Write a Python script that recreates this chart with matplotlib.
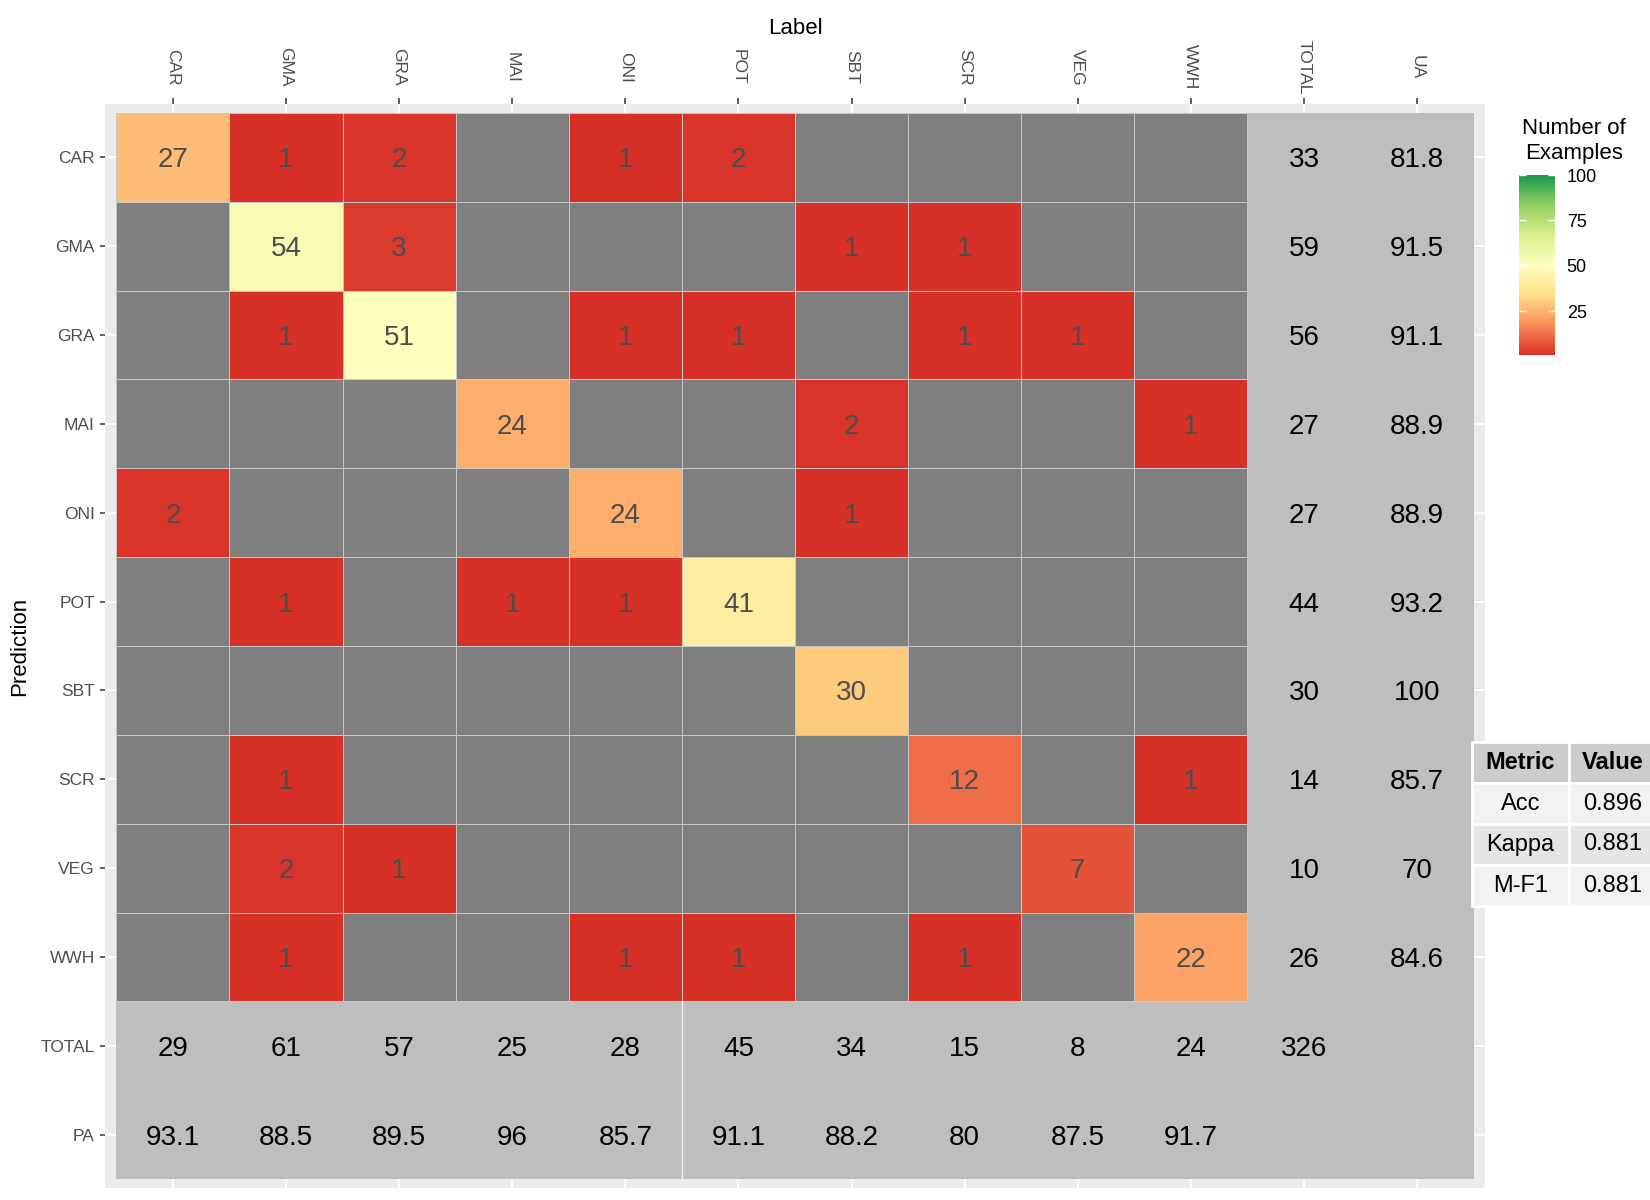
import numpy as np
import matplotlib
matplotlib.use('Agg')
import matplotlib.pyplot as plt
from matplotlib.colors import LinearSegmentedColormap, ListedColormap, Normalize
from matplotlib.cm import ScalarMappable

plt.rcParams['font.family'] = ['Liberation Sans', 'DejaVu Sans']

# ---------------- data ----------------
classes = ['CAR', 'GMA', 'GRA', 'MAI', 'ONI', 'POT', 'SBT', 'SCR', 'VEG', 'WWH']
x_labels = classes + ['TOTAL', 'UA']
y_labels = classes + ['TOTAL', 'PA']

# rows = Prediction, columns = Label (0 = no examples)
counts = [
    [27, 1, 2, 0, 1, 2, 0, 0, 0, 0],
    [0, 54, 3, 0, 0, 0, 1, 1, 0, 0],
    [0, 1, 51, 0, 1, 1, 0, 1, 1, 0],
    [0, 0, 0, 24, 0, 0, 2, 0, 0, 1],
    [2, 0, 0, 0, 24, 0, 1, 0, 0, 0],
    [0, 1, 0, 1, 1, 41, 0, 0, 0, 0],
    [0, 0, 0, 0, 0, 0, 30, 0, 0, 0],
    [0, 1, 0, 0, 0, 0, 0, 12, 0, 1],
    [0, 2, 1, 0, 0, 0, 0, 0, 7, 0],
    [0, 1, 0, 0, 1, 1, 0, 1, 0, 22],
]
row_totals = [33, 59, 56, 27, 27, 44, 30, 14, 10, 26]
col_totals = [29, 61, 57, 25, 28, 45, 34, 15, 8, 24]
grand_total = 326
ua = [81.8, 91.5, 91.1, 88.9, 88.9, 93.2, 100, 85.7, 70, 84.6]
pa = [93.1, 88.5, 89.5, 96, 85.7, 91.1, 88.2, 80, 87.5, 91.7]

metric_names = ['Acc', 'Kappa', 'M-F1']
metric_values = ['0.896', '0.881', '0.881']

legend_ticks = [25, 50, 75, 100]
legend_limits = (1, 100)
palette = ['#D73027', '#FC8D59', '#FEE08B', '#FFFFBF', '#D9EF8B', '#91CF60', '#1A9850']

# ---------------- figure ----------------
W, H = 1650, 1200
fig = plt.figure(figsize=(W / 100, H / 100), dpi=100)
fig.patch.set_facecolor('white')

ax = fig.add_axes([105 / W, 12 / H, 1380 / W, 1084 / H])
ax.set_facecolor('#EBEBEB')
for s in ax.spines.values():
    s.set_visible(False)

n = len(x_labels)
k = len(classes)
ax.set_xlim(-0.6, n - 0.4)
ax.set_ylim(n - 0.4, -0.6)
ax.set_xticks(range(n))
ax.set_xticklabels(x_labels)
ax.set_yticks(range(n))
ax.set_yticklabels(y_labels)
ax.grid(True, color='white', lw=1.5)
ax.set_axisbelow(True)

ax.tick_params(axis='x', bottom=False, labelbottom=False, top=True, labeltop=True,
               length=4.3, width=1.1, color='#333333', pad=22.3,
               labelsize=12.5, labelcolor='#4D4D4D', labelrotation=-90)
ax.tick_params(axis='y', left=True, length=3.6, width=1.1, color='#333333', pad=3.6,
               labelsize=12.5, labelcolor='#4D4D4D')
for t in ax.xaxis.get_major_ticks():
    t.label2.set_verticalalignment('center')
    t.label2.set_horizontalalignment('center')

# margin (totals / accuracies) region
edges_all = np.arange(n + 1) - 0.5
marg = np.ma.masked_all((n, n))
marg[k:, :] = 1
marg[:, k:] = 1
ax.pcolormesh(edges_all, edges_all, marg, cmap=ListedColormap(['#BEBEBE']),
              shading='flat', edgecolors='none', zorder=1)

# confusion matrix tiles
mat = np.ma.masked_equal(np.array(counts), 0)
cmap = LinearSegmentedColormap.from_list('rdylgn7', palette)
cmap.set_bad('#7F7F7F')
norm = Normalize(*legend_limits)
edges_k = np.arange(k + 1) - 0.5
ax.pcolormesh(edges_k, edges_k, mat, cmap=cmap, norm=norm, shading='flat',
              edgecolors='#C6C6C6', linewidth=0.7, zorder=2)

ax.plot([4.5, 4.5], [k - 0.5, n - 0.5], color='#F2F2F2', lw=0.9, zorder=3)

# texts in tiles
tkw = dict(ha='center', va='center_baseline', fontsize=20, zorder=4)
for i in range(k):
    for j in range(k):
        v = counts[i][j]
        if v > 0:
            ax.text(j, i, str(v), color='#4D4D4D', **tkw)
for i in range(k):
    ax.text(k, i, str(row_totals[i]), color='black', **tkw)
    ax.text(k + 1, i, '{:g}'.format(ua[i]), color='black', **tkw)
for j in range(k):
    ax.text(j, k, str(col_totals[j]), color='black', **tkw)
    ax.text(j, k + 1, '{:g}'.format(pa[j]), color='black', **tkw)
ax.text(k, k, str(grand_total), color='black', **tkw)

# axis titles
ax.set_xlabel('Label', fontsize=16, color='black')
ax.xaxis.set_label_position('top')
ax.xaxis.set_label_coords(0.5, 1 + (104 - 28) / 1084)
ax.xaxis.label.set_verticalalignment('center')
ax.set_ylabel('Prediction', fontsize=16, color='black')
ax.yaxis.set_label_coords((20 - 105) / 1380, 0.5)
ax.yaxis.label.set_verticalalignment('center')

# ---------------- legend (colorbar) ----------------
cax = fig.add_axes([1519 / W, 1 - 355 / H, 36 / W, 180 / H])
sm = ScalarMappable(norm=norm, cmap=cmap)
cb = fig.colorbar(sm, cax=cax, ticks=legend_ticks)
cb.outline.set_visible(False)
cax.tick_params(length=0, pad=8.5, labelsize=13, labelcolor='black')
tr = cax.get_yaxis_transform()
cax.hlines(legend_ticks, 0, 0.2, transform=tr, colors='white', lw=1)
cax.hlines(legend_ticks, 0.8, 1, transform=tr, colors='white', lw=1)
fig.text(1574 / W, 1 - 141 / H, 'Number of\nExamples', ha='center', va='center',
         multialignment='center', fontsize=16, linespacing=1.22, color='black')

# ---------------- metrics table ----------------
tax = fig.add_axes([1472 / W, 1 - 906 / H, 184 / W, 164 / H])
tax.axis('off')
cell_text = [[m, v] for m, v in zip(metric_names, metric_values)]
tbl = tax.table(cellText=cell_text, colLabels=['Metric', 'Value'], cellLoc='center',
                bbox=[0, 0, 1, 1], colWidths=[97 / 184, 87 / 184])
tbl.auto_set_font_size(False)
tbl.set_fontsize(17)
row_fills = ['#F2F2F2', '#E5E5E5', '#F2F2F2']
for (r, c), cell in tbl.get_celld().items():
    cell.set_edgecolor('white')
    cell.set_linewidth(2)
    if r == 0:
        cell.set_facecolor('#CCCCCC')
        cell.get_text().set_fontweight('bold')
    else:
        cell.set_facecolor(row_fills[r - 1])
    cell.get_text().set_color('black')

fig.savefig('out.png', dpi=100)
